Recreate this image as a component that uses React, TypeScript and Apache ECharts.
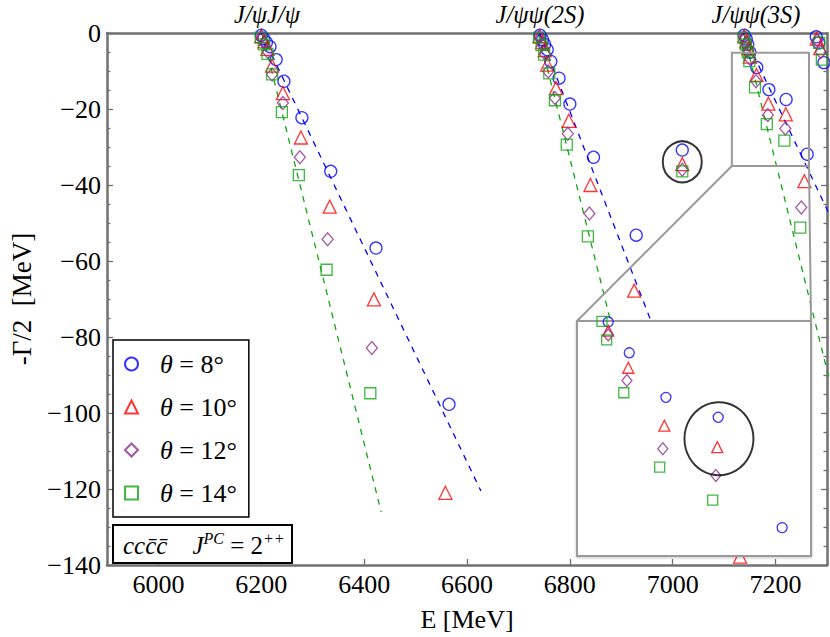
import React, { useEffect, useRef } from "react";
import * as echarts from "echarts";

// ---------- data (E [MeV], -Γ/2 [MeV]) ----------
const seriesNames = ["θ = 8°", "θ = 10°", "θ = 12°", "θ = 14°"];

// points outside the zoomed region (J/ψJ/ψ, J/ψψ(2S), resonance, 4th threshold)
const theta8Main = [
  [6200, -0.6], [6205, -1.5], [6210, -2.5], [6217, -3.6], [6229, -7.0], [6244, -12.7],
  [6279, -22.3], [6335, -36.4], [6423, -56.6], [6565, -97.7],
  [6742, -0.6], [6747, -1.8], [6751, -3.0], [6756, -4.4], [6763, -7.5], [6779, -11.9],
  [6800, -18.7], [6846, -32.7], [6929, -53.2],
  [7018.6, -30.8],
  [7279, -1.0], [7284, -2.6], [7294, -7.8],
];
const theta10Main = [
  [6200, -0.8], [6206, -2.2], [6212, -4.2], [6221, -8.6], [6242, -15.8], [6277, -27.5],
  [6333, -45.7], [6419, -70.1], [6558, -121.0],
  [6741, -0.8], [6746, -2.4], [6751, -4.5], [6756, -8.3], [6773, -14.5], [6798, -23.1],
  [6840, -40.0], [6925, -67.8], [7131, -137.8],
  [7018.6, -34.5],
  [7280, -1.5], [7287, -4.0],
];
const theta12Main = [
  [6200, -1.0], [6206, -2.6], [6213, -5.0], [6221, -10.9], [6242, -18.4], [6275, -32.7],
  [6329, -54.3], [6415, -82.9],
  [6741, -1.0], [6746, -2.8], [6752, -5.5], [6758, -10.1], [6771, -17.1], [6796, -26.5],
  [6838, -47.5],
  [7018.6, -36.0],
  [7281, -2.0], [7288, -5.0],
];
const theta14Main = [
  [6199, -1.2], [6205, -3.0], [6212, -5.5], [6221, -10.9], [6240, -20.8], [6273, -37.4],
  [6327, -62.3], [6412, -94.8],
  [6740, -1.2], [6745, -3.2], [6750, -5.7], [6760, -10.6], [6771, -17.7], [6794, -29.4],
  [6835, -53.5],
  [7018.6, -36.4],
  [7285, -2.6], [7290, -7.0],
];

// J/ψψ(3S) branch (shown in main plot and in the inset)
const theta8_3S = [
  [7139, -0.6], [7143, -1.6], [7146, -3.0], [7150, -5.06], [7163.5, -9.09],
  [7187, -14.9], [7220.5, -17.5], [7261.5, -31.9],
];
const theta10_3S = [
  [7139, -0.8], [7143, -2.2], [7147, -4.0], [7150, -6.2], [7162.9, -11.04],
  [7186, -18.6], [7219.9, -21.4], [7256, -39.0],
];
const theta12_3S = [
  [7139, -1.0], [7143, -2.6], [7147, -4.6], [7150, -6.75], [7162, -12.7],
  [7185, -21.6], [7219, -25.1], [7250, -45.9],
];
const theta14_3S = [
  [7138, -1.2], [7142, -3.0], [7146, -5.0], [7149, -7.4], [7160, -14.3],
  [7183, -24.0], [7217, -28.3], [7248, -51.2],
];

// dashed reference lines (start, end)
const blueLines = [
  [[6200, 0], [6627, -120.5]],
  [[6741, 0], [7087, -121]],
  [[7137, 0], [7560, -120.5]],
];
const greenLines = [
  [[6202, 0], [6433, -126]],
  [[6739, 0], [6972, -126]],
  [[7138, 0], [7368, -126]],
];

// circled resonances
const mainCircle = [[7018.6, -33.9]];
const insetCircle = [[7221, -20.3]];

// zoom window shown in main plot
const zoomBoxE = [7115, 7265];
const zoomBoxG = [-5.2, -35];

// ticks
const xTicks = [6000, 6200, 6400, 6600, 6800, 7000, 7200];
const topLabelPos = [6211, 6742, 7162];
const topLabels = ["J/ψJ/ψ", "J/ψψ(2S)", "J/ψψ(3S)"];

// ---------- styling ----------
const FONT = "'Liberation Serif', 'DejaVu Serif', serif";
const GRAY = "#707070";
const colors = ["#0000ff", "#ff0000", "#8e2a8e", "#11a611"];
const symbols = ["circle", "triangle", "diamond", "rect"];
const mainSizes: any[] = [12, 13, [11, 13], 11];
const insetSizes: any[] = [10, 11, [10, 12], 10];
const mainData = [theta8Main, theta10Main, theta12Main, theta14Main];
const zoomData = [theta8_3S, theta10_3S, theta12_3S, theta14_3S];

const GRID_L = 100, GRID_T = 33, GRID_W = 727, GRID_H = 540;
const INSET = { left: 577, top: 321, width: 234, height: 235 };

function yFmt(v: number) {
  return v === 0 ? "0" : "\u2212" + Math.abs(v);
}

export default function App() {
  const ref = useRef<HTMLDivElement>(null);
  useEffect(() => {
    const chart = echarts.init(ref.current!, null, { renderer: "svg" });
    const tickStyle = { color: GRAY, width: 1.3 };
    const series: any[] = [];
    blueLines.forEach((seg) =>
      series.push({
        type: "line", xAxisIndex: 0, yAxisIndex: 0, data: seg, symbol: "none", silent: true,
        lineStyle: { color: "#0000ff", width: 1.3, type: [6, 6] }, z: 2,
      })
    );
    greenLines.forEach((seg) =>
      series.push({
        type: "line", xAxisIndex: 0, yAxisIndex: 0, data: seg, symbol: "none", silent: true,
        lineStyle: { color: "#11a611", width: 1.3, type: [6, 6] }, z: 2,
      })
    );
    seriesNames.forEach((name, i) => {
      series.push({
        name, type: "scatter", xAxisIndex: 0, yAxisIndex: 0,
        data: [...mainData[i], ...zoomData[i]],
        symbol: symbols[i], symbolSize: mainSizes[i],
        itemStyle: { color: "rgba(0,0,0,0)", borderColor: colors[i], borderWidth: 1.3 },
        z: 3,
      });
    });
    seriesNames.forEach((name, i) => {
      series.push({
        name: "inset " + name, type: "scatter", xAxisIndex: 2, yAxisIndex: 2,
        data: zoomData[i], clip: true,
        symbol: symbols[i], symbolSize: insetSizes[i],
        itemStyle: { color: "rgba(0,0,0,0)", borderColor: colors[i], borderWidth: 1.3 },
        z: 11,
      });
    });
    series.push({
      type: "scatter", xAxisIndex: 0, yAxisIndex: 0, data: mainCircle, symbol: "circle",
      symbolSize: [39, 41], silent: true,
      itemStyle: { color: "rgba(0,0,0,0)", borderColor: "#000", borderWidth: 2 }, z: 4,
    });
    series.push({
      type: "scatter", xAxisIndex: 2, yAxisIndex: 2, data: insetCircle, symbol: "circle",
      symbolSize: [69, 73], silent: true,
      itemStyle: { color: "rgba(0,0,0,0)", borderColor: "#000", borderWidth: 2 }, z: 12,
    });

    const option: any = {
      animation: false,
      backgroundColor: "#fff",
      textStyle: { fontFamily: FONT, color: "#000" },
      grid: [
        { left: GRID_L, top: GRID_T, width: GRID_W, height: GRID_H },
        { left: INSET.left, top: INSET.top, width: INSET.width, height: INSET.height },
      ],
      xAxis: [
        {
          type: "value", gridIndex: 0, position: "bottom", min: 5900, max: 7300,
          name: "E [MeV]", nameLocation: "middle", nameGap: 41,
          nameTextStyle: { fontFamily: FONT, fontSize: 26, color: "#000" },
          axisLine: { onZero: false, lineStyle: { color: GRAY, width: 2.5 } },
          axisTick: { inside: true, length: 6, customValues: xTicks, lineStyle: tickStyle },
          axisLabel: {
            customValues: xTicks, formatter: (v: number) => String(v),
            fontFamily: FONT, fontSize: 26, color: "#000", margin: 6,
          },
          splitLine: { show: false },
        },
        {
          type: "value", gridIndex: 0, position: "top", min: 5900, max: 7300,
          axisLine: { onZero: false, lineStyle: { color: GRAY, width: 2.5 } },
          axisTick: { show: false },
          axisLabel: {
            customValues: topLabelPos,
            formatter: (v: number) => topLabels[topLabelPos.indexOf(v)] ?? "",
            fontFamily: FONT, fontStyle: "italic", fontSize: 24.5, color: "#000", margin: 6,
          },
          splitLine: { show: false },
        },
        { type: "value", gridIndex: 1, min: 7130, max: 7280, show: false },
      ],
      yAxis: [
        {
          type: "value", gridIndex: 0, position: "left", min: -140, max: 0, interval: 20,
          name: "-Γ/2  [MeV]", nameLocation: "middle", nameGap: 72, nameRotate: 90,
          nameTextStyle: { fontFamily: FONT, fontSize: 27, color: "#000" },
          axisLine: { onZero: false, lineStyle: { color: GRAY, width: 2.5 } },
          axisTick: { inside: true, length: 6, lineStyle: tickStyle },
          minorTick: { show: true, splitNumber: 4, length: 3.5, lineStyle: tickStyle },
          axisLabel: { formatter: yFmt, fontFamily: FONT, fontSize: 26, color: "#000", margin: 6 },
          splitLine: { show: false },
          minorSplitLine: { show: false },
        },
        {
          type: "value", gridIndex: 0, position: "right", min: -140, max: 0, interval: 20,
          axisLine: { onZero: false, lineStyle: { color: GRAY, width: 2.5 } },
          axisTick: { inside: true, length: 6, lineStyle: tickStyle },
          minorTick: { show: true, splitNumber: 4, length: 3.5, lineStyle: tickStyle },
          axisLabel: { show: false },
          splitLine: { show: false },
          minorSplitLine: { show: false },
        },
        { type: "value", gridIndex: 1, min: -35.6, max: -4.94, show: false },
      ],
      legend: {
        data: seriesNames,
        orient: "vertical",
        left: 113,
        top: 340,
        padding: [10, 12, 10, 11],
        itemWidth: 13,
        itemHeight: 13,
        itemGap: 15,
        borderColor: "#000",
        borderWidth: 1.5,
        backgroundColor: "#fff",
        selectedMode: false,
        formatter: (n: string) => n.replace("θ", "{i|θ}"),
        textStyle: {
          fontFamily: FONT, fontSize: 26, lineHeight: 28, color: "#000",
          padding: [0, 0, 0, 17],
          rich: { i: { fontFamily: FONT, fontStyle: "italic", fontSize: 26, lineHeight: 28 } },
        },
        z: 20,
      },
      series,
    };
    chart.setOption(option);

    const px = (v: number[]) => chart.convertToPixel({ xAxisIndex: 0, yAxisIndex: 0 }, v) as number[];
    const bTL = px([zoomBoxE[0], zoomBoxG[0]]);
    const bBR = px([zoomBoxE[1], zoomBoxG[1]]);
    const boxStroke = { stroke: "#9a9a9a", lineWidth: 2, fill: "none" };
    chart.setOption({
      graphic: [
        {
          type: "rect", z: 5, silent: true,
          shape: { x: bTL[0], y: bTL[1], width: bBR[0] - bTL[0], height: bBR[1] - bTL[1] },
          style: boxStroke,
        },
        {
          type: "line", z: 5, silent: true,
          shape: { x1: bTL[0], y1: bBR[1], x2: INSET.left, y2: INSET.top },
          style: { stroke: "#9a9a9a", lineWidth: 2 },
        },
        {
          type: "line", z: 5, silent: true,
          shape: { x1: bBR[0], y1: bBR[1], x2: INSET.left + INSET.width, y2: INSET.top },
          style: { stroke: "#9a9a9a", lineWidth: 2 },
        },
        {
          type: "rect", z: 6, silent: true,
          shape: { x: INSET.left, y: INSET.top, width: INSET.width, height: INSET.height },
          style: {
            fill: "#fff", stroke: "#9a9a9a", lineWidth: 2,
            shadowBlur: 3, shadowColor: "rgba(0,0,0,0.22)", shadowOffsetX: 0, shadowOffsetY: 1,
          },
        },
        {
          type: "rect", z: 20, silent: true,
          shape: { x: 113, y: 525, width: 179, height: 38 },
          style: { fill: "#fff", stroke: "#000", lineWidth: 2 },
        },
        {
          type: "text", z: 21, silent: true,
          x: 123, y: 545,
          style: {
            text: "{it|cc\u0063\u0304\u0063\u0304}\u2002\u2002{it|J}{sp|PC} = 2{sp|++}",
            fontFamily: FONT, fontSize: 25, fill: "#000",
            verticalAlign: "middle",
            rich: {
              it: { fontFamily: FONT, fontStyle: "italic", fontSize: 25, lineHeight: 30 },
              sp: { fontFamily: FONT, fontStyle: "italic", fontSize: 16, lineHeight: 16, verticalAlign: "top" },
            },
          },
        },
      ],
    });

    return () => chart.dispose();
  }, []);
  return (
    <div
      ref={ref}
      style={{ position: "fixed", left: 0, top: 0, width: 830, height: 637, background: "#fff" }}
    />
  );
}
